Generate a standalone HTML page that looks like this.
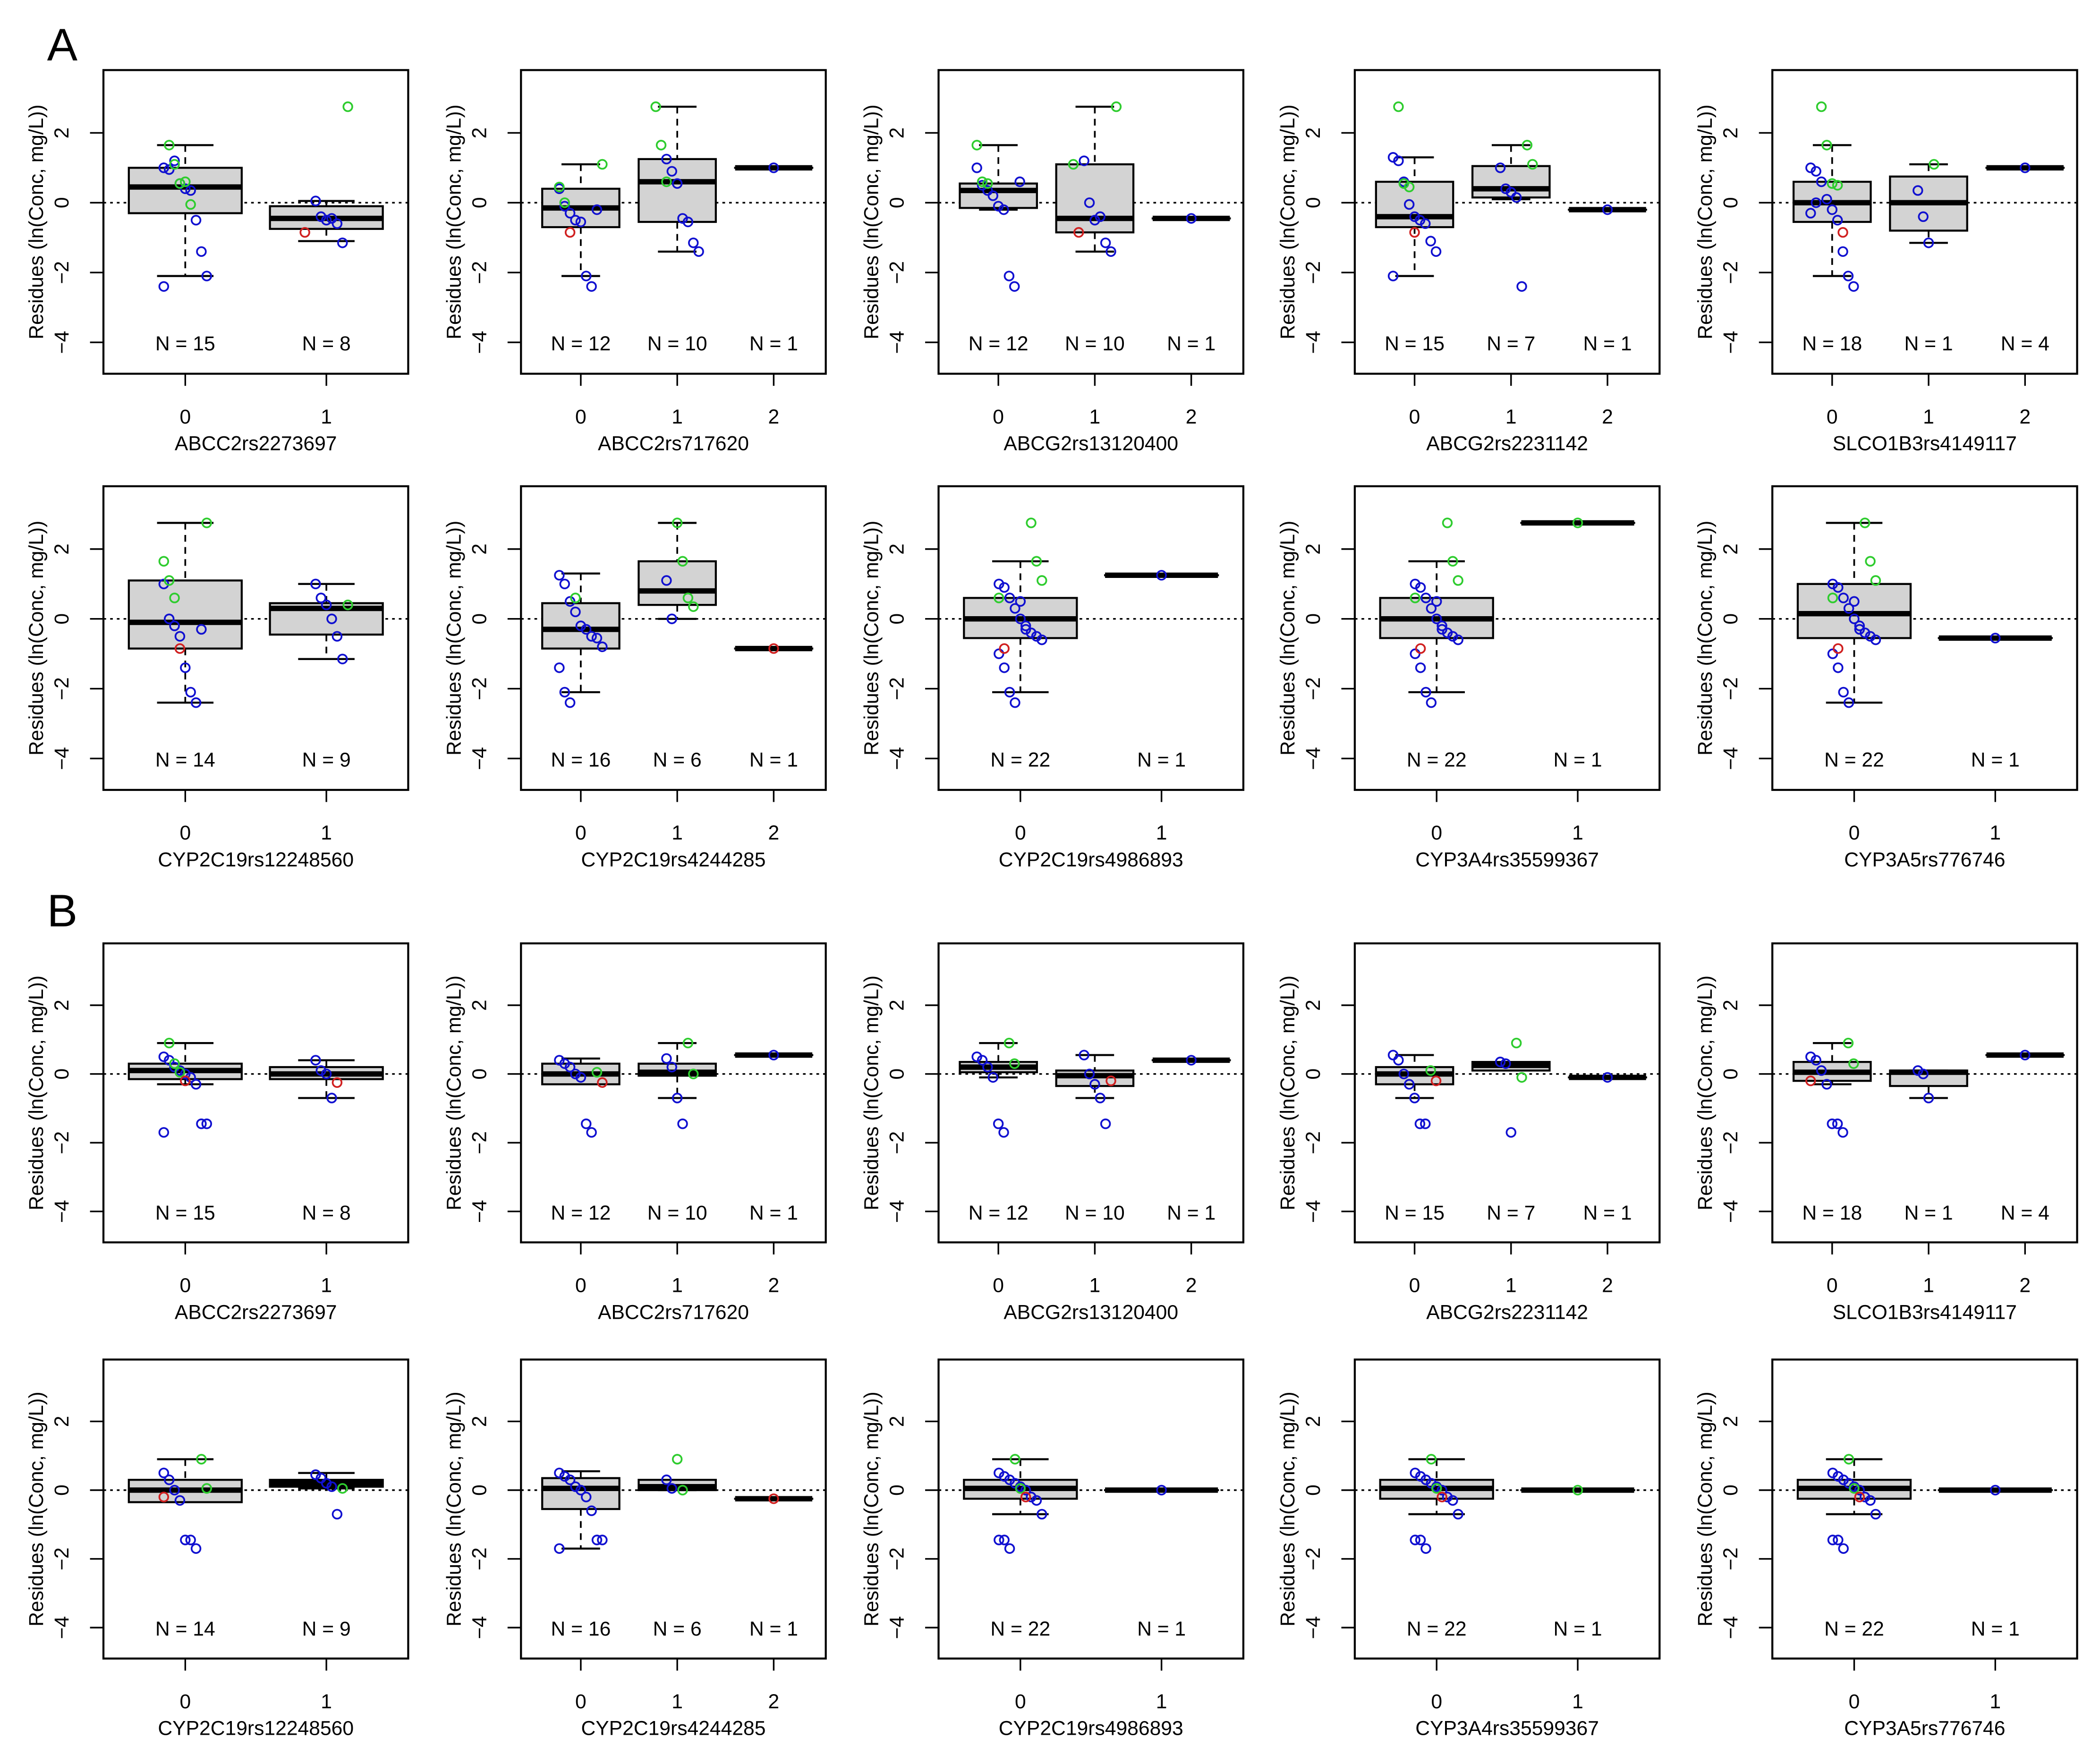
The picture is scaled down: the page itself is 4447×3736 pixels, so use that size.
<!DOCTYPE html>
<html><head><meta charset="utf-8"><style>
html,body{margin:0;padding:0;background:#fff}
svg{display:block}
text{font-family:"Liberation Sans",Arial,sans-serif}
</style></head><body>
<svg id="fig" xmlns="http://www.w3.org/2000/svg" width="4447" height="3736" viewBox="0 0 1564 1314">
<rect width="1564" height="1314" fill="#fff"/>
<text x="35" y="45" font-size="34">A</text>
<text x="35" y="690" font-size="34">B</text>
</svg>
<script>
const panelNames=["ABCC2rs2273697","ABCC2rs717620","ABCG2rs13120400","ABCG2rs2231142","SLCO1B3rs4149117","CYP2C19rs12248560","CYP2C19rs4244285","CYP2C19rs4986893","CYP3A4rs35599367","CYP3A5rs776746"];
const panelNsA=[[15,8],[12,10,1],[12,10,1],[15,7,1],[18,1,4],[14,9],[16,6,1],[22,1],[22,1],[22,1]];
const boxesA=[
[[-2.1,-0.3,0.45,1.0,1.65],[-1.1,-0.75,-0.45,-0.1,0.05]],
[[-2.1,-0.7,-0.15,0.4,1.1],[-1.4,-0.55,0.6,1.25,2.75],[1.0,1.0,1.0,1.0,1.0]],
[[-0.2,-0.15,0.35,0.55,1.65],[-1.4,-0.85,-0.45,1.1,2.75],[-0.45,-0.45,-0.45,-0.45,-0.45]],
[[-2.1,-0.7,-0.4,0.6,1.3],[0.1,0.15,0.4,1.05,1.65],[-0.2,-0.2,-0.2,-0.2,-0.2]],
[[-2.1,-0.55,0.0,0.6,1.65],[-1.15,-0.8,0.0,0.75,1.1],[1.0,1.0,1.0,1.0,1.0]],
[[-2.4,-0.85,-0.1,1.1,2.75],[-1.15,-0.45,0.3,0.45,1.0]],
[[-2.1,-0.85,-0.3,0.45,1.3],[0.0,0.4,0.8,1.65,2.75],[-0.85,-0.85,-0.85,-0.85,-0.85]],
[[-2.1,-0.55,0.0,0.6,1.65],[1.25,1.25,1.25,1.25,1.25]],
[[-2.1,-0.55,0.0,0.6,1.65],[2.75,2.75,2.75,2.75,2.75]],
[[-2.4,-0.55,0.15,1.0,2.75],[-0.55,-0.55,-0.55,-0.55,-0.55]]];
const blueA=[
[[1.0,0.95,1.2,0.55,0.4,0.35,-0.5,-1.4,-2.1,-2.4],[0.05,-0.4,-0.5,-0.45,-0.6,-1.15]],
[[0.4,-0.1,-0.3,-0.5,-0.55,-2.1,-2.4,-0.2],[1.25,0.9,0.55,-0.45,-0.55,-1.15,-1.4],[1.0]],
[[1.0,0.5,0.35,0.2,-0.1,-0.2,-2.1,-2.4,0.6],[1.2,0.0,-0.5,-0.4,-1.15,-1.4],[-0.45]],
[[1.3,1.2,0.6,-0.05,-0.4,-0.5,-0.6,-1.1,-1.4,-2.1],[1.0,0.4,0.3,0.15,-2.4],[-0.2]],
[[1.0,0.9,0.6,0.1,-0.2,-0.5,-1.4,-2.1,-2.4,-0.3,0.0],[0.35,-0.4,-1.15],[1.0]],
[[1.0,0.0,-0.2,-0.5,-1.4,-2.1,-2.4,-0.3],[1.0,0.6,0.4,0.0,-0.5,-1.15]],
[[1.25,1.0,0.5,0.2,-0.2,-0.3,-0.5,-0.55,-0.8,-1.4,-2.1,-2.4],[1.1,0.0],[]],
[[1.0,0.9,0.6,0.3,0.0,-0.2,-0.4,-0.5,-0.6,-1.0,-1.4,-2.1,-2.4,0.5,-0.3],[1.25]],
[[1.0,0.9,0.6,0.3,0.0,-0.2,-0.4,-0.5,-0.6,-1.0,-1.4,-2.1,-2.4,0.5,-0.3],[]],
[[1.0,0.9,0.6,0.3,0.0,-0.2,-0.4,-0.5,-0.6,-1.0,-1.4,-2.1,-2.4,0.5,-0.3],[-0.55]]];
const greenA=[
[[1.65,1.1,0.55,0.6,-0.05],[2.75]],
[[1.1,0.45,0.0],[2.75,1.65,0.6],[]],
[[1.65,0.6,0.55],[2.75,1.1],[]],
[[2.75,0.55,0.45],[1.65,1.1],[]],
[[2.75,1.65,0.55,0.5],[1.1],[]],
[[2.75,1.65,1.1,0.6],[0.4]],
[[0.6],[2.75,1.65,0.6,0.35],[]],
[[2.75,1.65,1.1,0.6],[]],
[[2.75,1.65,1.1,0.6],[2.75]],
[[2.75,1.65,1.1,0.6],[]]];
const redA=[[[],[-0.85]],[[-0.85],[],[]],[[],[-0.85],[]],[[-0.85],[],[]],[[-0.85],[],[]],[[-0.85],[]],[[],[],[-0.85]],[[-0.85],[]],[[-0.85],[]],[[-0.85],[]]];

const boxesB=[
[[-0.3,-0.15,0.1,0.3,0.9],[-0.7,-0.15,0.0,0.2,0.4]],
[[-0.3,-0.3,0.0,0.3,0.45],[-0.7,-0.05,0.05,0.3,0.9],[0.55,0.55,0.55,0.55,0.55]],
[[-0.1,0.05,0.2,0.35,0.9],[-0.7,-0.35,-0.05,0.1,0.55],[0.4,0.4,0.4,0.4,0.4]],
[[-0.7,-0.3,0.0,0.2,0.55],[0.1,0.1,0.25,0.35,0.35],[-0.1,-0.1,-0.1,-0.1,-0.1]],
[[-0.3,-0.2,0.05,0.35,0.9],[-0.7,-0.35,0.05,0.1,0.1],[0.55,0.55,0.55,0.55,0.55]],
[[-0.3,-0.35,0.0,0.3,0.9],[0.05,0.1,0.2,0.3,0.5]],
[[-1.7,-0.55,0.05,0.35,0.55],[0.0,0.0,0.1,0.3,0.3],[-0.25,-0.25,-0.25,-0.25,-0.25]],
[[-0.7,-0.25,0.05,0.3,0.9],[0.0,0.0,0.0,0.0,0.0]],
[[-0.7,-0.25,0.05,0.3,0.9],[0.0,0.0,0.0,0.0,0.0]],
[[-0.7,-0.25,0.05,0.3,0.9],[0.0,0.0,0.0,0.0,0.0]]];
const blueB=[
[[0.5,0.4,0.2,0.1,0.0,-0.1,-0.3,-1.45,-1.45,-1.7],[0.4,0.1,0.0,-0.7]],
[[0.4,0.3,0.2,0.0,-0.1,-1.45,-1.7],[0.45,0.2,-0.7,-1.45],[0.55]],
[[0.5,0.4,0.2,-0.1,-1.45,-1.7],[0.55,0.0,-0.3,-0.7,-1.45],[0.4]],
[[0.55,0.4,0.0,-0.3,-0.7,-1.45,-1.45],[0.35,0.3,-1.7],[-0.1]],
[[0.5,0.4,0.1,-0.3,-1.45,-1.45,-1.7],[0.1,0.0,-0.7],[0.55]],
[[0.5,0.3,0.0,-0.3,-1.45,-1.45,-1.7],[0.45,0.35,0.2,0.1,-0.7]],
[[0.5,0.4,0.3,0.1,0.0,-0.2,-0.6,-1.45,-1.45,-1.7],[0.3,0.05],[]],
[[0.5,0.4,0.3,0.2,0.1,0.0,-0.2,-0.3,-0.7,-1.45,-1.45,-1.7],[0.0]],
[[0.5,0.4,0.3,0.2,0.1,0.0,-0.2,-0.3,-0.7,-1.45,-1.45,-1.7],[]],
[[0.5,0.4,0.3,0.2,0.1,0.0,-0.2,-0.3,-0.7,-1.45,-1.45,-1.7],[0.0]]];
const greenB=[
[[0.9,0.3,0.05],[]],[[0.05],[0.9,0.0],[]],[[0.9,0.3],[],[]],[[0.1],[0.9,-0.1],[]],[[0.9,0.3],[],[]],
[[0.9,0.05],[0.05]],[[],[0.9,0.0],[]],[[0.9,0.05],[]],[[0.9,0.05],[0.0]],[[0.9,0.05],[]]];
const redB=[
[[-0.2],[-0.25]],[[-0.25],[],[]],[[],[-0.2],[]],[[-0.2],[],[]],[[-0.2],[],[]],
[[-0.2],[]],[[],[],[-0.25]],[[-0.2],[]],[[-0.2],[]],[[-0.2],[]]];
const yTicks=[-4,-2,0,2];

const NS="http://www.w3.org/2000/svg";
const svg=document.getElementById('fig');
const colLeft=[77,388,699,1009,1320];
const frameW=227;
const rowZero=[151,461,800,1110];
const rowUnit=[26,26,25.6,25.6];
function mk(tag,attrs,parent){const e=document.createElementNS(NS,tag);for(const k in attrs)e.setAttribute(k,attrs[k]);(parent||svg).appendChild(e);return e;}

function drawPanel(p,row,col,boxes,blue,green,red){
  const g=mk('g',{});
  
  
  const L=colLeft[col], z=rowZero[row], u=rowUnit[row];
  const yS=v=>z-v*u;
  const top=yS(3.8), bot=yS(-4.9);
  const n=boxes.length;
  const ppu=frameW/(n+0.16);
  const xS=i=>L+(i+1-(0.5-0.04*n))*ppu;
  const bw=0.8*ppu;
  const zl=mk('line',{x1:L,x2:L+frameW,y1:yS(0),y2:yS(0),stroke:'#000','stroke-width':1.2,'stroke-dasharray':'2,3'},g);
  
  
  boxes.forEach((b,i)=>{
    const cx=xS(i);
    const bg=mk('g',{},g);
    
    
    mk('line',{x1:cx,x2:cx,y1:yS(b[4]),y2:yS(b[3]),stroke:'#000','stroke-width':1.3,'stroke-dasharray':'5,4'},bg);
    mk('line',{x1:cx,x2:cx,y1:yS(b[1]),y2:yS(b[0]),stroke:'#000','stroke-width':1.3,'stroke-dasharray':'5,4'},bg);
    mk('line',{x1:cx-bw/4,x2:cx+bw/4,y1:yS(b[4]),y2:yS(b[4]),stroke:'#000','stroke-width':1.5},bg);
    mk('line',{x1:cx-bw/4,x2:cx+bw/4,y1:yS(b[0]),y2:yS(b[0]),stroke:'#000','stroke-width':1.5},bg);
    mk('rect',{x:cx-bw/2,y:yS(b[3]),width:bw,height:Math.max(0.01,yS(b[1])-yS(b[3])),fill:'#d3d3d3',stroke:'#000','stroke-width':1.5},bg);
    mk('line',{x1:cx-bw/2,x2:cx+bw/2,y1:yS(b[2]),y2:yS(b[2]),stroke:'#000','stroke-width':4},bg);
    const sets=[[blue[i],'#1010d0'],[green[i],'#2ecc2e'],[red[i],'#d02020']];
    let k=0;
    sets.forEach(([vals,c])=>{(vals||[]).forEach(v=>{
      const j=boxes[i][0]===boxes[i][4]?0:(((k*37+i*11)%9)-4)*4;k++;
      const pt=mk('circle',{cx:cx+j,cy:yS(v),r:3.3,fill:'none',stroke:c,'stroke-width':1.3},bg);
      
      
    });});
    const nt=mk('text',{x:cx,y:yS(-4)+6,'font-size':15,'text-anchor':'middle'},g);
    nt.textContent='N = '+panelNsA[p][i];
    
    
    mk('line',{x1:cx,x2:cx,y1:bot,y2:bot+9,stroke:'#000','stroke-width':1.2},g);
    const tl=mk('text',{x:cx,y:bot+37,'font-size':15,'text-anchor':'middle'},g);
    tl.textContent=String(i);
    
    
  });
  const fr=mk('rect',{x:L,y:top,width:frameW,height:bot-top,fill:'none',stroke:'#000','stroke-width':1.5},g);
  
  
  yTicks.forEach(t=>{
    mk('line',{x1:L-10,x2:L,y1:yS(t),y2:yS(t),stroke:'#000','stroke-width':1.2},g);
    const yt=mk('text',{x:0,y:0,'font-size':15,'text-anchor':'middle',transform:`translate(${L-26},${yS(t)}) rotate(-90)`},g);
    yt.textContent=t<0?'\u2212'+(-t):String(t);
    
    
  });
  const ya=mk('text',{x:0,y:0,'font-size':15,'text-anchor':'middle',transform:`translate(${L-45},${(top+bot)/2}) rotate(-90)`},g);
  ya.textContent='Residues (ln(Conc, mg/L))';
  
  
  const xa=mk('text',{x:L+frameW/2,y:bot+57,'font-size':15,'text-anchor':'middle'},g);
  xa.textContent=panelNames[p];
  
  
}
for(let p=0;p<10;p++){
  const r=Math.floor(p/5), c=p%5;
  drawPanel(p,r,c,boxesA[p],blueA[p],greenA[p],redA[p]);
  drawPanel(p,r+2,c,boxesB[p],blueB[p],greenB[p],redB[p]);
}
</script>
</body></html>
